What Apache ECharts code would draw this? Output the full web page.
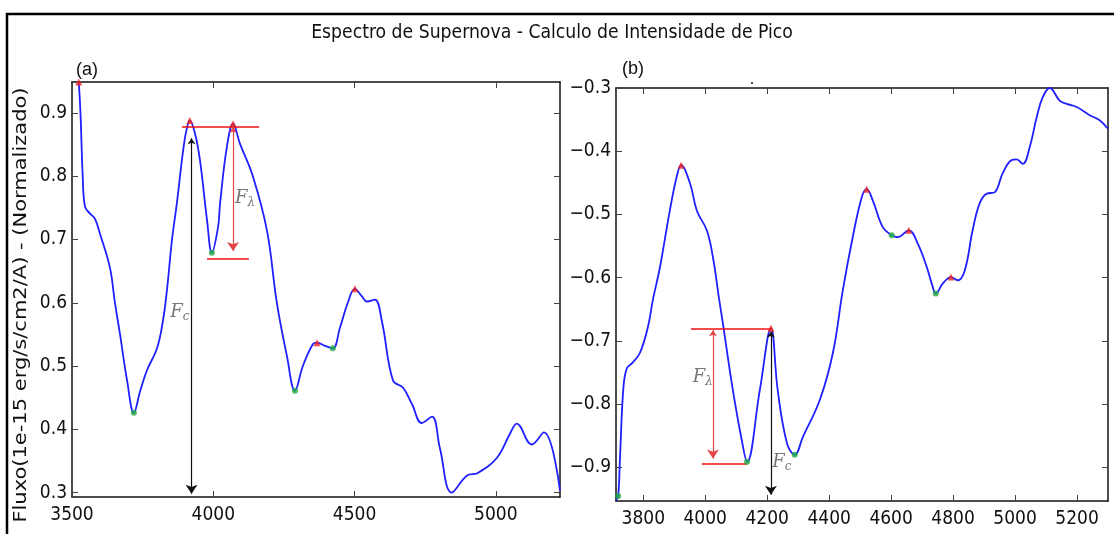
<!DOCTYPE html>
<html>
<head>
<meta charset="utf-8">
<script src="https://cdn.jsdelivr.net/npm/echarts@6/dist/echarts.min.js"></script>
<style>html,body{margin:0;padding:0;background:#fff;}#c{width:1114px;height:534px;}</style>
</head>
<body>
<div id="c"></div>
<script>
// ---------- Panel (a) data ----------
const waveA = [3524,3530,3538,3546,3564,3581,3599,3634,3652,3670,3695,3719,3741,3765,3801,3822,3836,3854,3871,3893,3905,3917,3935,3953,3978,3995,4017,4024,4048,4070,4094,4140,4190,4225,4261,4289,4317,4353,4367,4395,4423,4448,4476,4501,4526,4544,4572,4597,4636,4671,4703,4738,4774,4802,4844,4898,4936,5004,5050,5074,5127,5170,5227];
const fluxA = [0.949,0.900,0.800,0.752,0.741,0.733,0.709,0.656,0.600,0.550,0.477,0.426,0.460,0.493,0.528,0.572,0.620,0.700,0.757,0.840,0.873,0.888,0.868,0.825,0.730,0.679,0.720,0.757,0.846,0.883,0.852,0.800,0.714,0.600,0.515,0.461,0.500,0.535,0.537,0.532,0.528,0.560,0.600,0.622,0.610,0.602,0.605,0.570,0.477,0.466,0.440,0.410,0.420,0.370,0.300,0.327,0.331,0.355,0.393,0.409,0.376,0.395,0.303];
const peaksA = [[3524,0.949],[3917,0.888],[4070,0.883],[4367,0.537],[4501,0.622]];
const minsA = [[3719,0.426],[3995,0.679],[4289,0.461],[4423,0.528]];
const xTicksA = [3500,4000,4500,5000];
const yTicksA = [0.3,0.4,0.5,0.6,0.7,0.8,0.9];
// red level lines, red double arrow, black double arrow
const levelsA = [[[3889,0.878],[4162,0.878]],[[3978,0.669],[4126,0.669]]];
const redArrowA = [[4070,0.878],[4070,0.682]];
const blackArrowA = [[3923,0.86],[3923,0.298]];
const labelsA = [{pos:[3882,0.585],sub:'c'},{pos:[4112,0.765],sub:'λ'}];

// ---------- Panel (b) data ----------
const waveB = [3712,3719,3725,3736,3747,3764,3789,3815,3831,3854,3886,3909,3922,3951,3973,4005,4025,4044,4057,4089,4118,4135,4176,4212,4234,4264,4289,4315,4370,4412,4444,4476,4505,4521,4541,4573,4602,4621,4657,4686,4715,4734,4744,4767,4793,4815,4838,4863,4886,4909,4934,4960,4989,5005,5025,5047,5070,5089,5112,5144,5167,5199,5241,5273,5299];
const fluxB = [-0.952,-0.945,-0.883,-0.773,-0.743,-0.735,-0.719,-0.678,-0.635,-0.583,-0.493,-0.438,-0.422,-0.451,-0.494,-0.525,-0.568,-0.631,-0.672,-0.777,-0.857,-0.891,-0.778,-0.680,-0.778,-0.862,-0.880,-0.852,-0.793,-0.719,-0.620,-0.536,-0.473,-0.460,-0.478,-0.520,-0.533,-0.536,-0.525,-0.546,-0.583,-0.614,-0.625,-0.609,-0.599,-0.604,-0.588,-0.525,-0.482,-0.467,-0.465,-0.435,-0.414,-0.413,-0.420,-0.394,-0.346,-0.315,-0.300,-0.320,-0.325,-0.330,-0.343,-0.351,-0.364];
const peaksB = [[3922,-0.422],[4212,-0.680],[4521,-0.460],[4657,-0.525],[4793,-0.599]];
const minsB = [[3719,-0.945],[4135,-0.891],[4289,-0.880],[4602,-0.533],[4744,-0.625]];
const xTicksB = [3800,4000,4200,4400,4600,4800,5000,5200];
const yTicksB = [-0.9,-0.8,-0.7,-0.6,-0.5,-0.4,-0.3];
const levelsB = [[[3954,-0.680],[4215,-0.680]],[[3989,-0.894],[4135,-0.894]]];
const redArrowB = [[4025,-0.683],[4025,-0.886]];
const blackArrowB = [[4212,-0.685],[4212,-0.943]];
const labelsB = [{pos:[3992,-0.757],sub:'λ'},{pos:[4247,-0.892],sub:'c'}];

const xRangeA = [3500,5227], yRangeA = [0.293,0.949];
const xRangeB = [3712,5300], yRangeB = [-0.953,-0.3];

const zip = (xs, ys) => xs.map((x,i)=>[x,ys[i]]);
const tickFont = 'Liberation Sans Narrow, DejaVu Sans Condensed, sans-serif';
const fmtNum = v => {
  const s = (Math.round(v*10)/10).toString();
  return s.startsWith('-') ? '\u2212' + s.slice(1) : s;
};

function axisPair(gridIndex, range, ticks, isX, showLabel, position){
  return {
    type: 'value', gridIndex, min: range[0], max: range[1], position,
    splitLine: {show:false},
    axisLine: {show:true, onZero:false, lineStyle:{color:'#111', width:1.5}},
    axisTick: {show:true, inside:true, length:6, customValues: ticks, lineStyle:{color:'#444', width:1}},
    axisLabel: {show: showLabel, customValues: ticks, fontFamily: tickFont, fontSize: 19, color:'#111',
      margin: isX ? 9 : 5, formatter: isX ? (v => String(v)) : fmtNum}
  };
}

const xAxes = [
  axisPair(0, xRangeA, xTicksA, true, true, 'bottom'),
  axisPair(0, xRangeA, xTicksA, true, false, 'top'),
  axisPair(1, xRangeB, xTicksB, true, true, 'bottom'),
  axisPair(1, xRangeB, xTicksB, true, false, 'top')
];
const yAxes = [
  axisPair(0, yRangeA, yTicksA, false, true, 'left'),
  axisPair(0, yRangeA, yTicksA, false, false, 'right'),
  axisPair(1, yRangeB, yTicksB, false, true, 'left'),
  axisPair(1, yRangeB, yTicksB, false, false, 'right')
];

function panelSeries(xi, yi, wave, flux, peaks, mins, levels, redArrow, blackArrow, labels){
  return [
    {type:'line', xAxisIndex:xi, yAxisIndex:yi, data: zip(wave, flux), smooth:0.4,
     showSymbol:false, lineStyle:{color:'#1f1fff', width:1.8}, z:3, silent:true},
    {type:'lines', coordinateSystem:'cartesian2d', xAxisIndex:xi, yAxisIndex:yi, z:4,
     data: levels.map(c=>({coords:c})), symbol:['none','none'], lineStyle:{color:'#ee1111', width:1.5, opacity:1}},
    {type:'lines', coordinateSystem:'cartesian2d', xAxisIndex:xi, yAxisIndex:yi, z:4,
     data: [{coords: redArrow}], symbol:['arrow','arrow'], symbolSize:[6,9], lineStyle:{color:'#e34545', width:1.2, opacity:1}},
    {type:'lines', coordinateSystem:'cartesian2d', xAxisIndex:xi, yAxisIndex:yi, z:4,
     data: [{coords: blackArrow}], symbol:['arrow','arrow'], symbolSize:[6,9], lineStyle:{color:'#111', width:1.2, opacity:1}},
    {type:'scatter', xAxisIndex:xi, yAxisIndex:yi, data: peaks, symbol:'triangle', symbolSize:7,
     itemStyle:{color:'#ee2222'}, z:5, silent:true},
    {type:'scatter', xAxisIndex:xi, yAxisIndex:yi, data: mins, symbol:'circle', symbolSize:6,
     itemStyle:{color:'#22aa44'}, z:5, silent:true},
    {type:'scatter', xAxisIndex:xi, yAxisIndex:yi, symbolSize:0, z:6, silent:true,
     data: labels.map(l=>({value:l.pos, label:{formatter:'{f|F}{s|'+l.sub+'}'}})),
     label:{show:true, position:'inside', color:'#555',
       rich:{f:{fontFamily:'DejaVu Serif', fontStyle:'italic', fontSize:18, color:'#555'},
             s:{fontFamily:'DejaVu Serif', fontStyle:'italic', fontSize:12, color:'#555', padding:[9,0,0,0]}}}}
  ];
}

const chart = echarts.init(document.getElementById('c'), null, {renderer:'canvas'});
chart.setOption({
  animation:false,
  backgroundColor:'#fff',
  title:{text:'Espectro de Supernova - Calculo de Intensidade de Pico', left:547, top:19, textAlign:'center',
    textStyle:{fontFamily:'DejaVu Sans Condensed, DejaVu Sans, sans-serif', fontWeight:'normal', fontSize:19.2, color:'#111'}},
  grid:[
    {left:72, top:82, width:488, height:415, containLabel:false},
    {left:616, top:88, width:492, height:413, containLabel:false}
  ],
  xAxis: xAxes,
  yAxis: yAxes,
  series: [
    ...panelSeries(0, 0, waveA, fluxA, peaksA, minsA, levelsA, redArrowA, blackArrowA, labelsA),
    ...panelSeries(2, 2, waveB, fluxB, peaksB, minsB, levelsB, redArrowB, blackArrowB, labelsB)
  ],
  graphic:[
    {type:'rect', shape:{x:7, y:14, width:1300, height:700}, style:{fill:'none', stroke:'#000', lineWidth:2.5}, silent:true},
    {type:'text', x:22, y:305, rotation:Math.PI/2, scaleY:0.8, style:{text:'Fluxo(1e-15 erg/s/cm2/A) - (Normalizado)', fontFamily:'DejaVu Sans, sans-serif', fontSize:21, fill:'#111', align:'center', verticalAlign:'middle'}},
    {type:'text', x:76, y:70, style:{text:'(a)', fontFamily:'Liberation Sans Narrow, sans-serif', fontSize:18, fill:'#111', verticalAlign:'middle'}},
    {type:'text', x:622, y:69, style:{text:'(b)', fontFamily:'Liberation Sans Narrow, sans-serif', fontSize:18, fill:'#111', verticalAlign:'middle'}},
    {type:'circle', shape:{cx:752, cy:83, r:1}, style:{fill:'#111'}, silent:true}
  ]
});
</script>
</body>
</html>
